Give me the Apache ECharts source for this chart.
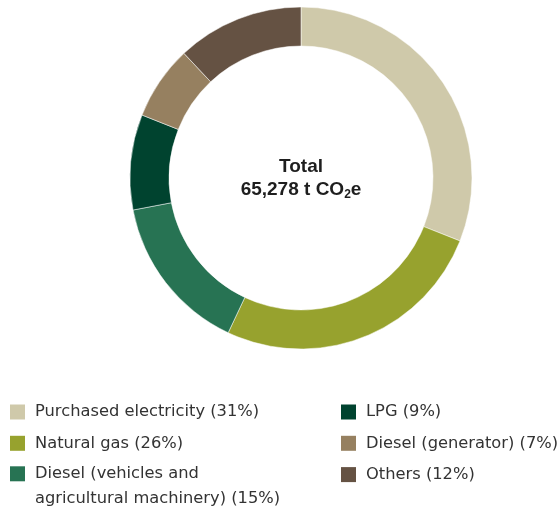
<!DOCTYPE html>
<html>
<head>
<meta charset="utf-8">
<style>
  html, body { margin: 0; padding: 0; background: #ffffff; }
  #chart { width: 558px; height: 508px; }
</style>
<script src="https://cdn.jsdelivr.net/npm/echarts@6/dist/echarts.min.js"></script>
</head>
<body>
<div id="chart"></div>
<script>
// ---- data ----
var categories = ['Purchased electricity', 'Natural gas', 'Diesel (vehicles and agricultural machinery)', 'LPG', 'Diesel (generator)', 'Others'];
var shares = [31, 26, 15, 9, 7, 12];
var colors = ['#CFC9AA', '#97A22E', '#277353', '#00432F', '#968060', '#655243'];
var totalLabel = 'Total';
var totalValue = '65,278 t CO';
var totalSub = '2';
var totalSuffix = 'e';

var names = categories.map(function (c, i) { return c + ' (' + shares[i] + '%)'; });
var pieData = names.map(function (n, i) {
  return { name: n, value: shares[i], itemStyle: { color: colors[i] } };
});

var legendText = {
  fontSize: 16.3,
  fontFamily: 'DejaVu Sans',
  color: '#333333',
  lineHeight: 25,
  padding: [0, 0, 0, 5]
};
function wrap(name) {
  // long label: keep first line level with the square, second line below it
  if (name.indexOf('vehicles and ') >= 0) {
    return ' \n' + name.replace('vehicles and ', 'vehicles and\n');
  }
  return name;
}
var legendBase = {
  orient: 'vertical',
  icon: 'rect',
  itemWidth: 15,
  itemHeight: 15,
  itemGap: 6.3,
  padding: 0,
  selectedMode: false,
  itemStyle: { borderWidth: 0 },
  textStyle: legendText,
  formatter: wrap
};

var chart = echarts.init(document.getElementById('chart'), null, { renderer: 'canvas' });
chart.setOption({
  animation: false,
  legend: [
    Object.assign({}, legendBase, { left: 10, top: 399.5, data: [names[0], names[1]] }),
    Object.assign({}, legendBase, { left: 10, top: 436.3, data: [names[2]] }),
    Object.assign({}, legendBase, { left: 341, top: 399.5, data: [names[3], names[4], names[5]] })
  ],
  graphic: [{
    type: 'text',
    x: 301,
    y: 178,
    silent: true,
    style: {
      text: '{b|' + totalLabel + '}\n{b|' + totalValue + '}{s|' + totalSub + '}{b|' + totalSuffix + '}',
      align: 'center',
      verticalAlign: 'middle',
      rich: {
        b: { fontSize: 19, fontWeight: 'bold', fontFamily: 'Liberation Sans', fill: '#1e1e1e', lineHeight: 23 },
        s: { fontSize: 12, fontWeight: 'bold', fontFamily: 'Liberation Sans', fill: '#1e1e1e', lineHeight: 9, verticalAlign: 'bottom' }
      }
    }
  }],
  series: [{
    type: 'pie',
    center: [301, 178],
    radius: [132, 171],
    startAngle: 90,
    clockwise: true,
    label: { show: false },
    labelLine: { show: false },
    emphasis: { disabled: true },
    itemStyle: { borderColor: '#ffffff', borderWidth: 0.5 },
    data: pieData
  }]
});
</script>
</body>
</html>
